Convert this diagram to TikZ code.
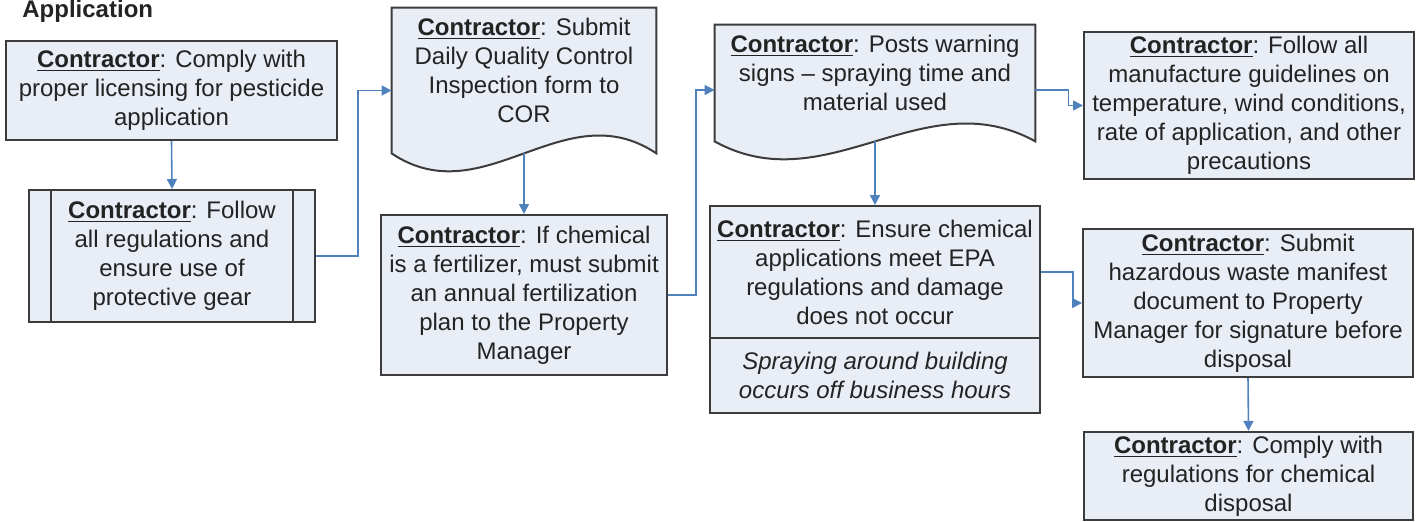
\documentclass[tikz,border=0pt]{standalone}
\usepackage{fontspec}
\setmainfont{Liberation Sans}
\usetikzlibrary{arrows.meta,calc,backgrounds}
\definecolor{boxfill}{RGB}{232,237,246}
\definecolor{boxline}{RGB}{60,60,60}
\definecolor{flowblue}{RGB}{79,129,189}
\definecolor{textgray}{RGB}{35,35,35}
\newcommand{\contractor}{\underline{\textbf{Contractor}}}
\tikzset{
  shapeline/.style={draw=boxline, fill=boxfill, line width=1pt},
  box/.style={shapeline, rectangle, align=center, inner xsep=1pt, inner ysep=2pt,
    font=\fontsize{12pt}{14.5pt}\selectfont, text=textgray},
  doctext/.style={rectangle, align=center, inner xsep=1pt, inner ysep=2pt,
    font=\fontsize{12pt}{14.5pt}\selectfont, text=textgray},
  flow/.style={draw=flowblue, line width=0.8pt, -{Triangle[length=5pt,width=5pt]}}
}
% outline of a document shape round the text node #1
\newcommand{\docoutline}[1]{%
  \begin{scope}[on background layer]
  \draw[shapeline] (#1.north west) -- (#1.north east) -- ([yshift=-10pt]#1.south east)
    .. controls ($(#1.south east)!0.35!(#1.south west)+(0,-42)$)
    and ($(#1.south west)!0.35!(#1.south east)+(0,82)$) .. ([yshift=-10pt]#1.south west) -- cycle;
  \end{scope}}
\begin{document}
\begin{tikzpicture}[x=0.5pt, y=-0.5pt]
\useasboundingbox (0,0) rectangle (1422,521);
\def \wide{165pt}
\node (title) at (22,17) [anchor=base west, font=\fontsize{12pt}{14.5pt}\selectfont\bfseries, text=textgray, inner sep=0pt]{Application};
% first column
\node (a) at (171.5,90.5) [box, minimum width=165.5pt, minimum height=49.5pt]{\contractor: Comply with\\proper licensing for pesticide\\application};
\node (b) at (172,256) [box, minimum width=143pt, minimum height=66pt]{\contractor: Follow\\all regulations and\\ensure use of\\protective gear};
\draw[boxline, line width=1pt] ([xshift=11.5pt]b.north west) -- ([xshift=11.5pt]b.south west);
\draw[boxline, line width=1pt] ([xshift=-11.5pt]b.north east) -- ([xshift=-11.5pt]b.south east);
% second column
\node (c) at (524,70.5) [doctext, minimum width=132pt, minimum height=62.5pt]{\contractor: Submit\\Daily Quality Control\\Inspection form to\\COR};
\docoutline{c}
\node (d) at (524,295) [box, minimum width=143pt, minimum height=80pt]{\contractor: If chemical\\is a fertilizer, must submit\\an annual fertilization\\plan to the Property\\Manager};
% third column
\node (e) at (875,73) [doctext, minimum width=160pt, minimum height=48pt]{\contractor: Posts warning\\signs -- spraying time and\\material used};
\docoutline{e}
\node (g) at (875,272) [box, minimum width=\wide, minimum height=66pt]{\contractor: Ensure chemical\\applications meet EPA\\regulations and damage\\does not occur};
\node (gnote) at (875,375.5) [box, minimum width=\wide, minimum height=37.5pt, font=\fontsize{12pt}{14.5pt}\selectfont\itshape]{Spraying around building\\occurs off business hours};
% fourth column
\node (f) at (1249,105.5) [box, minimum width=\wide, minimum height=73.5pt]{\contractor: Follow all\\manufacture guidelines on\\temperature, wind conditions,\\rate of application, and other\\precautions};
\node (h) at (1248,303) [box, minimum width=\wide, minimum height=74pt]{\contractor: Submit\\hazardous waste manifest\\document to Property\\Manager for signature before\\disposal};
\node (i) at (1248.5,476) [box, minimum width=164.5pt, minimum height=44pt]{\contractor: Comply with\\regulations for chemical\\disposal};
% connectors
\draw[flow] (a.south) -- (b.north);
\draw[flow] (b.east) -- ++(42,0) |- ([yshift=-10pt]c.west);
\draw[flow] ([yshift=-10pt]c.south) -- (d.north);
\draw[flow] (d.east) -- ++(28,0) |- ([yshift=-8.5pt]e.west);
\draw[flow] ([yshift=-8.5pt]e.east) -- ++(33,0) |- (f.west);
\draw[flow] ([yshift=-10pt]e.south) -- (g.north);
\draw[flow] (g.east) -- ++(32,0) |- (h.west);
\draw[flow] (h.south) -- (i.north);
\end{tikzpicture}
\end{document}
